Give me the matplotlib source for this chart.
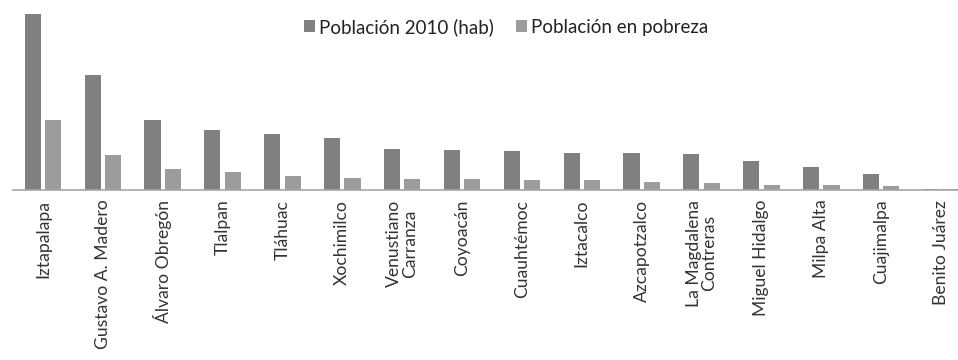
import numpy as np
import matplotlib.pyplot as plt

# Delegaciones del DF, poblacion total 2010 y poblacion en pobreza
delegaciones = ['Iztapalapa', 'Gustavo A. Madero', 'Álvaro Obregón', 'Tlalpan',
                'Tláhuac', 'Xochimilco', 'Venustiano\nCarranza', 'Coyoacán',
                'Cuauhtémoc', 'Iztacalco', 'Azcapotzalco', 'La Magdalena\nContreras',
                'Miguel Hidalgo', 'Milpa Alta', 'Cuajimalpa', 'Benito Juárez']
poblacion = [1815786, 1185772, 727034, 620000, 578000, 536000, 423000, 413000,
             402000, 382000, 382000, 371000, 299000, 237000, 165000, 10000]
pobreza = [722000, 361000, 217000, 186000, 144000, 124000, 113000, 113000,
           103000, 103000, 83000, 72000, 52000, 52000, 41000, 10000]

plt.rcParams['font.family'] = ['Lato', 'DejaVu Sans']

fig = plt.figure(figsize=(9.58, 3.60), dpi=100)
ax = fig.add_axes([13/958, 170/360, 945/958, 176/360])

x = np.arange(len(delegaciones))
w = 0.27
ax.bar(x - 0.17, poblacion, w, color='#808080', label='Población 2010 (hab)')
ax.bar(x + 0.17, pobreza, w, color='#9c9c9c', label='Población en pobreza')

ax.set_xlim(-0.5, 15.5 - 13/59.9)
ax.set_ylim(0, max(poblacion))
ax.set_yticks([])
ax.set_xticks(x)
ax.set_xticklabels(delegaciones, rotation=90, fontsize=12.6, color='#333333',
                   va='top', ha='center', linespacing=1.0)
ax.tick_params(axis='x', length=0, pad=7)
for s in ['top', 'right', 'left']:
    ax.spines[s].set_visible(False)
ax.spines['bottom'].set_color('#a6a6a6')
ax.spines['bottom'].set_linewidth(1.2)

leg = fig.legend(loc='center', bbox_to_anchor=(506/958, 1 - 27/360), ncol=2,
                 frameon=False, fontsize=13.5, handlelength=0.6, handleheight=0.6,
                 handletextpad=0.2, columnspacing=1.2)
for t in leg.get_texts():
    t.set_color('#222222')

plt.savefig('out.png', dpi=100)
